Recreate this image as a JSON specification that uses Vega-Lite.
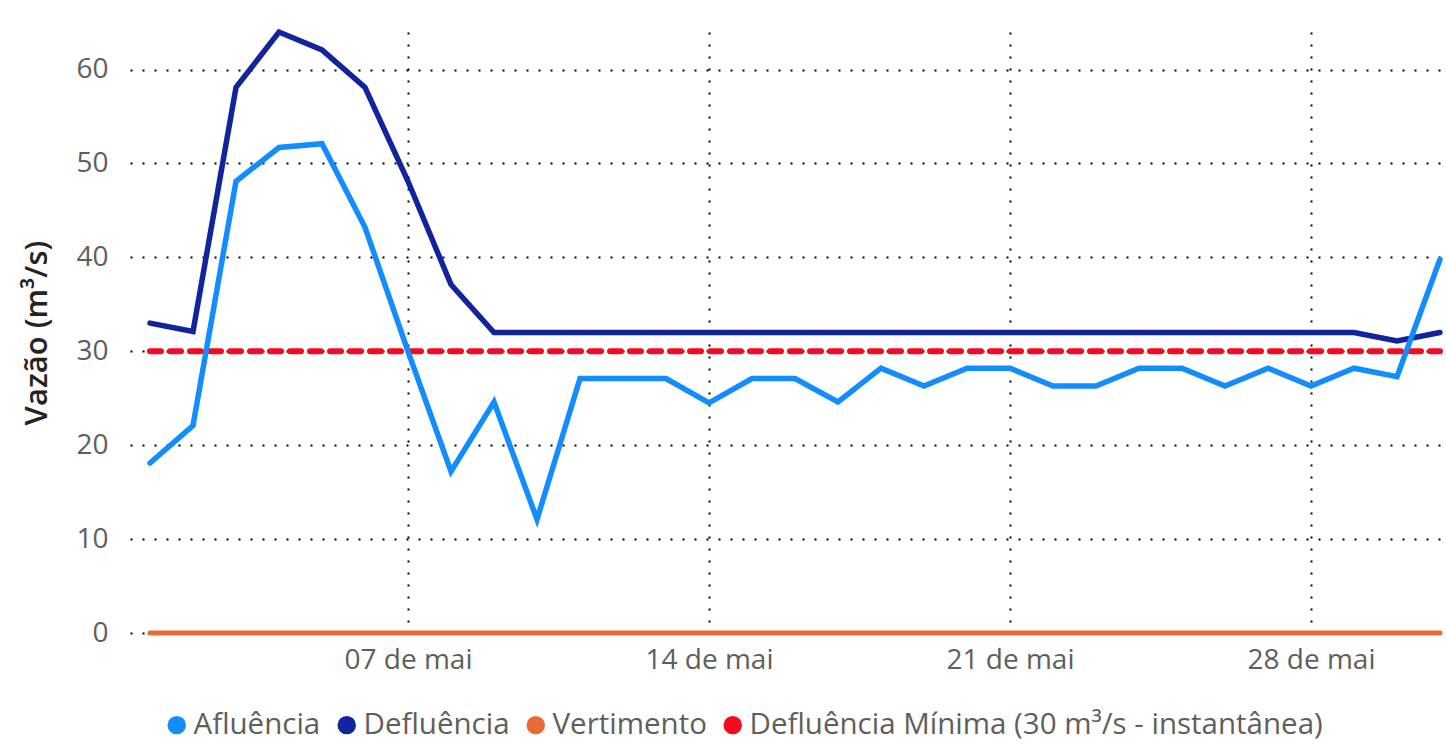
{
  "$schema": "https://vega.github.io/schema/vega-lite/v6.json",
  "width": 1314,
  "height": 601,
  "autosize": {"type": "none"},
  "padding": {"left": 130, "top": 32, "right": 2, "bottom": 113},
  "background": "white",
  "config": {
    "view": {"stroke": null},
    "font": "Open Sans",
    "axis": {"domain": false, "ticks": false, "gridColor": "#000000", "gridWidth": 2, "gridDash": [2, 10], "labelColor": "#605E5C", "labelFontSize": 28, "labelFont": "Open Sans"}
  },
  "data": {
    "values": [
      {"d": "2024-05-01T00:00:00", "s": "Afluência", "v": 18.1},
      {"d": "2024-05-02T00:00:00", "s": "Afluência", "v": 22.1},
      {"d": "2024-05-03T00:00:00", "s": "Afluência", "v": 48.1},
      {"d": "2024-05-04T00:00:00", "s": "Afluência", "v": 51.7},
      {"d": "2024-05-05T00:00:00", "s": "Afluência", "v": 52.1},
      {"d": "2024-05-06T00:00:00", "s": "Afluência", "v": 43.2},
      {"d": "2024-05-07T00:00:00", "s": "Afluência", "v": 30.0},
      {"d": "2024-05-08T00:00:00", "s": "Afluência", "v": 17.2},
      {"d": "2024-05-09T00:00:00", "s": "Afluência", "v": 24.6},
      {"d": "2024-05-10T00:00:00", "s": "Afluência", "v": 12.1},
      {"d": "2024-05-11T00:00:00", "s": "Afluência", "v": 27.1},
      {"d": "2024-05-12T00:00:00", "s": "Afluência", "v": 27.1},
      {"d": "2024-05-13T00:00:00", "s": "Afluência", "v": 27.1},
      {"d": "2024-05-14T00:00:00", "s": "Afluência", "v": 24.5},
      {"d": "2024-05-15T00:00:00", "s": "Afluência", "v": 27.1},
      {"d": "2024-05-16T00:00:00", "s": "Afluência", "v": 27.1},
      {"d": "2024-05-17T00:00:00", "s": "Afluência", "v": 24.6},
      {"d": "2024-05-18T00:00:00", "s": "Afluência", "v": 28.2},
      {"d": "2024-05-19T00:00:00", "s": "Afluência", "v": 26.3},
      {"d": "2024-05-20T00:00:00", "s": "Afluência", "v": 28.2},
      {"d": "2024-05-21T00:00:00", "s": "Afluência", "v": 28.2},
      {"d": "2024-05-22T00:00:00", "s": "Afluência", "v": 26.3},
      {"d": "2024-05-23T00:00:00", "s": "Afluência", "v": 26.3},
      {"d": "2024-05-24T00:00:00", "s": "Afluência", "v": 28.2},
      {"d": "2024-05-25T00:00:00", "s": "Afluência", "v": 28.2},
      {"d": "2024-05-26T00:00:00", "s": "Afluência", "v": 26.3},
      {"d": "2024-05-27T00:00:00", "s": "Afluência", "v": 28.2},
      {"d": "2024-05-28T00:00:00", "s": "Afluência", "v": 26.3},
      {"d": "2024-05-29T00:00:00", "s": "Afluência", "v": 28.2},
      {"d": "2024-05-30T00:00:00", "s": "Afluência", "v": 27.3},
      {"d": "2024-05-31T00:00:00", "s": "Afluência", "v": 39.8},
      {"d": "2024-05-01T00:00:00", "s": "Defluência", "v": 33.0},
      {"d": "2024-05-02T00:00:00", "s": "Defluência", "v": 32.1},
      {"d": "2024-05-03T00:00:00", "s": "Defluência", "v": 58.1},
      {"d": "2024-05-04T00:00:00", "s": "Defluência", "v": 64.0},
      {"d": "2024-05-05T00:00:00", "s": "Defluência", "v": 62.1},
      {"d": "2024-05-06T00:00:00", "s": "Defluência", "v": 58.1},
      {"d": "2024-05-07T00:00:00", "s": "Defluência", "v": 48.1},
      {"d": "2024-05-08T00:00:00", "s": "Defluência", "v": 37.1},
      {"d": "2024-05-09T00:00:00", "s": "Defluência", "v": 32.0},
      {"d": "2024-05-10T00:00:00", "s": "Defluência", "v": 32.0},
      {"d": "2024-05-11T00:00:00", "s": "Defluência", "v": 32.0},
      {"d": "2024-05-12T00:00:00", "s": "Defluência", "v": 32.0},
      {"d": "2024-05-13T00:00:00", "s": "Defluência", "v": 32.0},
      {"d": "2024-05-14T00:00:00", "s": "Defluência", "v": 32.0},
      {"d": "2024-05-15T00:00:00", "s": "Defluência", "v": 32.0},
      {"d": "2024-05-16T00:00:00", "s": "Defluência", "v": 32.0},
      {"d": "2024-05-17T00:00:00", "s": "Defluência", "v": 32.0},
      {"d": "2024-05-18T00:00:00", "s": "Defluência", "v": 32.0},
      {"d": "2024-05-19T00:00:00", "s": "Defluência", "v": 32.0},
      {"d": "2024-05-20T00:00:00", "s": "Defluência", "v": 32.0},
      {"d": "2024-05-21T00:00:00", "s": "Defluência", "v": 32.0},
      {"d": "2024-05-22T00:00:00", "s": "Defluência", "v": 32.0},
      {"d": "2024-05-23T00:00:00", "s": "Defluência", "v": 32.0},
      {"d": "2024-05-24T00:00:00", "s": "Defluência", "v": 32.0},
      {"d": "2024-05-25T00:00:00", "s": "Defluência", "v": 32.0},
      {"d": "2024-05-26T00:00:00", "s": "Defluência", "v": 32.0},
      {"d": "2024-05-27T00:00:00", "s": "Defluência", "v": 32.0},
      {"d": "2024-05-28T00:00:00", "s": "Defluência", "v": 32.0},
      {"d": "2024-05-29T00:00:00", "s": "Defluência", "v": 32.0},
      {"d": "2024-05-30T00:00:00", "s": "Defluência", "v": 31.1},
      {"d": "2024-05-31T00:00:00", "s": "Defluência", "v": 32.0},
      {"d": "2024-05-01T00:00:00", "s": "Vertimento", "v": 0},
      {"d": "2024-05-02T00:00:00", "s": "Vertimento", "v": 0},
      {"d": "2024-05-03T00:00:00", "s": "Vertimento", "v": 0},
      {"d": "2024-05-04T00:00:00", "s": "Vertimento", "v": 0},
      {"d": "2024-05-05T00:00:00", "s": "Vertimento", "v": 0},
      {"d": "2024-05-06T00:00:00", "s": "Vertimento", "v": 0},
      {"d": "2024-05-07T00:00:00", "s": "Vertimento", "v": 0},
      {"d": "2024-05-08T00:00:00", "s": "Vertimento", "v": 0},
      {"d": "2024-05-09T00:00:00", "s": "Vertimento", "v": 0},
      {"d": "2024-05-10T00:00:00", "s": "Vertimento", "v": 0},
      {"d": "2024-05-11T00:00:00", "s": "Vertimento", "v": 0},
      {"d": "2024-05-12T00:00:00", "s": "Vertimento", "v": 0},
      {"d": "2024-05-13T00:00:00", "s": "Vertimento", "v": 0},
      {"d": "2024-05-14T00:00:00", "s": "Vertimento", "v": 0},
      {"d": "2024-05-15T00:00:00", "s": "Vertimento", "v": 0},
      {"d": "2024-05-16T00:00:00", "s": "Vertimento", "v": 0},
      {"d": "2024-05-17T00:00:00", "s": "Vertimento", "v": 0},
      {"d": "2024-05-18T00:00:00", "s": "Vertimento", "v": 0},
      {"d": "2024-05-19T00:00:00", "s": "Vertimento", "v": 0},
      {"d": "2024-05-20T00:00:00", "s": "Vertimento", "v": 0},
      {"d": "2024-05-21T00:00:00", "s": "Vertimento", "v": 0},
      {"d": "2024-05-22T00:00:00", "s": "Vertimento", "v": 0},
      {"d": "2024-05-23T00:00:00", "s": "Vertimento", "v": 0},
      {"d": "2024-05-24T00:00:00", "s": "Vertimento", "v": 0},
      {"d": "2024-05-25T00:00:00", "s": "Vertimento", "v": 0},
      {"d": "2024-05-26T00:00:00", "s": "Vertimento", "v": 0},
      {"d": "2024-05-27T00:00:00", "s": "Vertimento", "v": 0},
      {"d": "2024-05-28T00:00:00", "s": "Vertimento", "v": 0},
      {"d": "2024-05-29T00:00:00", "s": "Vertimento", "v": 0},
      {"d": "2024-05-30T00:00:00", "s": "Vertimento", "v": 0},
      {"d": "2024-05-31T00:00:00", "s": "Vertimento", "v": 0},
      {"d": "2024-05-01T00:00:00", "s": "Defluência Mínima (30 m³/s - instantânea)", "v": 30},
      {"d": "2024-05-02T00:00:00", "s": "Defluência Mínima (30 m³/s - instantânea)", "v": 30},
      {"d": "2024-05-03T00:00:00", "s": "Defluência Mínima (30 m³/s - instantânea)", "v": 30},
      {"d": "2024-05-04T00:00:00", "s": "Defluência Mínima (30 m³/s - instantânea)", "v": 30},
      {"d": "2024-05-05T00:00:00", "s": "Defluência Mínima (30 m³/s - instantânea)", "v": 30},
      {"d": "2024-05-06T00:00:00", "s": "Defluência Mínima (30 m³/s - instantânea)", "v": 30},
      {"d": "2024-05-07T00:00:00", "s": "Defluência Mínima (30 m³/s - instantânea)", "v": 30},
      {"d": "2024-05-08T00:00:00", "s": "Defluência Mínima (30 m³/s - instantânea)", "v": 30},
      {"d": "2024-05-09T00:00:00", "s": "Defluência Mínima (30 m³/s - instantânea)", "v": 30},
      {"d": "2024-05-10T00:00:00", "s": "Defluência Mínima (30 m³/s - instantânea)", "v": 30},
      {"d": "2024-05-11T00:00:00", "s": "Defluência Mínima (30 m³/s - instantânea)", "v": 30},
      {"d": "2024-05-12T00:00:00", "s": "Defluência Mínima (30 m³/s - instantânea)", "v": 30},
      {"d": "2024-05-13T00:00:00", "s": "Defluência Mínima (30 m³/s - instantânea)", "v": 30},
      {"d": "2024-05-14T00:00:00", "s": "Defluência Mínima (30 m³/s - instantânea)", "v": 30},
      {"d": "2024-05-15T00:00:00", "s": "Defluência Mínima (30 m³/s - instantânea)", "v": 30},
      {"d": "2024-05-16T00:00:00", "s": "Defluência Mínima (30 m³/s - instantânea)", "v": 30},
      {"d": "2024-05-17T00:00:00", "s": "Defluência Mínima (30 m³/s - instantânea)", "v": 30},
      {"d": "2024-05-18T00:00:00", "s": "Defluência Mínima (30 m³/s - instantânea)", "v": 30},
      {"d": "2024-05-19T00:00:00", "s": "Defluência Mínima (30 m³/s - instantânea)", "v": 30},
      {"d": "2024-05-20T00:00:00", "s": "Defluência Mínima (30 m³/s - instantânea)", "v": 30},
      {"d": "2024-05-21T00:00:00", "s": "Defluência Mínima (30 m³/s - instantânea)", "v": 30},
      {"d": "2024-05-22T00:00:00", "s": "Defluência Mínima (30 m³/s - instantânea)", "v": 30},
      {"d": "2024-05-23T00:00:00", "s": "Defluência Mínima (30 m³/s - instantânea)", "v": 30},
      {"d": "2024-05-24T00:00:00", "s": "Defluência Mínima (30 m³/s - instantânea)", "v": 30},
      {"d": "2024-05-25T00:00:00", "s": "Defluência Mínima (30 m³/s - instantânea)", "v": 30},
      {"d": "2024-05-26T00:00:00", "s": "Defluência Mínima (30 m³/s - instantânea)", "v": 30},
      {"d": "2024-05-27T00:00:00", "s": "Defluência Mínima (30 m³/s - instantânea)", "v": 30},
      {"d": "2024-05-28T00:00:00", "s": "Defluência Mínima (30 m³/s - instantânea)", "v": 30},
      {"d": "2024-05-29T00:00:00", "s": "Defluência Mínima (30 m³/s - instantânea)", "v": 30},
      {"d": "2024-05-30T00:00:00", "s": "Defluência Mínima (30 m³/s - instantânea)", "v": 30},
      {"d": "2024-05-31T00:00:00", "s": "Defluência Mínima (30 m³/s - instantânea)", "v": 30}
    ]
  },
  "encoding": {
    "x": {
      "field": "d",
      "type": "temporal",
      "scale": {"domain": [
        {"year": 2024, "month": 4, "date": 30, "hours": 12, "minutes": 50},
        {"year": 2024, "month": 5, "date": 31, "hours": 2, "minutes": 14}
      ]},
      "axis": {
        "title": null,
        "grid": true,
        "values": [
          {"year": 2024, "month": 5, "date": 7},
          {"year": 2024, "month": 5, "date": 14},
          {"year": 2024, "month": 5, "date": 21},
          {"year": 2024, "month": 5, "date": 28}
        ],
        "format": "%d de mai",
        "labelPadding": 13,
        "labelFlush": false,
        "labelOverlap": false
      }
    },
    "y": {
      "field": "v",
      "type": "quantitative",
      "scale": {"domain": [0, 64], "nice": false},
      "axis": {
        "values": [0, 10, 20, 30, 40, 50, 60],
        "title": "Vazão (m³/s)",
        "titleFontSize": 31,
        "titleFontWeight": 600,
        "titleColor": "#252423",
        "titleFont": "Open Sans",
        "titlePadding": 22,
        "labelPadding": 22
      }
    },
    "color": {
      "field": "s",
      "type": "nominal",
      "scale": {
        "domain": ["Afluência", "Defluência", "Vertimento", "Defluência Mínima (30 m³/s - instantânea)"],
        "range": ["#118DFF", "#12239E", "#E66C37", "#F70A1E"]
      },
      "legend": {
        "title": null,
        "orient": "none",
        "direction": "horizontal",
        "legendX": 32,
        "legendY": 678,
        "symbolType": "circle",
        "symbolSize": 340,
        "symbolStrokeWidth": 0,
        "labelFontSize": 29.5,
        "labelFont": "Open Sans",
        "labelColor": "#605E5C",
        "labelOffset": 2,
        "columnPadding": 11,
        "labelLimit": 800,
        "encode": {
          "symbols": {"update": {"fill": {"scale": "color", "field": "value"}, "opacity": {"value": 1}, "strokeWidth": {"value": 0}}}
        }
      }
    }
  },
  "layer": [
    {
      "transform": [{"filter": "datum.s === 'Defluência Mínima (30 m³/s - instantânea)'"}],
      "mark": {"type": "line", "strokeWidth": 6, "strokeDash": [11, 9], "strokeCap": "round"}
    },
    {
      "transform": [{"filter": "datum.s === 'Vertimento'"}],
      "mark": {"type": "line", "strokeWidth": 5, "strokeCap": "round"}
    },
    {
      "transform": [{"filter": "datum.s === 'Defluência'"}],
      "mark": {"type": "line", "strokeWidth": 5.5, "strokeCap": "round", "strokeJoin": "miter"}
    },
    {
      "transform": [{"filter": "datum.s === 'Afluência'"}],
      "mark": {"type": "line", "strokeWidth": 5.5, "strokeCap": "round", "strokeJoin": "miter"}
    }
  ]
}
